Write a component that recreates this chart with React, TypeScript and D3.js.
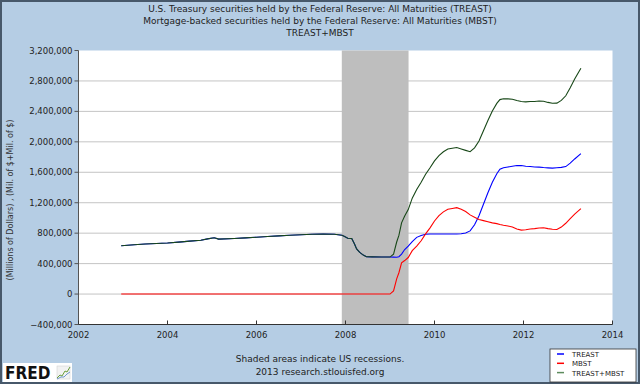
import React from 'react';
import * as d3 from 'd3';

const dates = [
  2002.96, 2003.25, 2003.5, 2003.75, 2004.0, 2004.25, 2004.5, 2004.75, 2004.9, 2005.05, 2005.15,
  2005.5, 2005.75, 2006.0, 2006.25, 2006.5, 2006.75, 2007.0, 2007.25, 2007.5, 2007.75, 2007.92,
  2007.98, 2008.05, 2008.14, 2008.2, 2008.25, 2008.32, 2008.4, 2008.47, 2008.6, 2008.8, 2009.0,
  2009.08, 2009.15, 2009.2, 2009.26, 2009.33, 2009.41, 2009.5, 2009.6, 2009.7, 2009.8, 2009.9,
  2010.0, 2010.1, 2010.2, 2010.3, 2010.4, 2010.5, 2010.6, 2010.7, 2010.8, 2010.9, 2011.0,
  2011.1, 2011.2, 2011.3, 2011.4, 2011.47, 2011.55, 2011.65, 2011.75, 2011.85, 2011.95, 2012.05,
  2012.15, 2012.25, 2012.35, 2012.45, 2012.55, 2012.65, 2012.75, 2012.85, 2012.95, 2013.05,
  2013.15, 2013.29,
];

const treast = [
  635000, 648000, 657000, 665000, 670000, 682000, 695000, 706000, 725000, 740000, 722000,
  730000, 738000, 746000, 757000, 765000, 773000, 780000, 785000, 789000, 786000, 772000,
  757000, 734000, 731000, 662000, 592000, 548000, 512000, 490000, 488000, 486000, 486000,
  485000, 484000, 490000, 525000, 585000, 630000, 690000, 745000, 770000, 785000, 790000,
  790000, 790000, 790000, 790000, 790000, 790000, 792000, 803000, 830000, 910000, 1030000,
  1180000, 1330000, 1470000, 1580000, 1640000, 1660000, 1670000, 1680000, 1688000, 1690000, 1680000,
  1675000, 1670000, 1668000, 1662000, 1658000, 1655000, 1660000, 1665000, 1675000, 1720000,
  1775000, 1845000,
];

const mbst = [
  0, 0, 0, 0, 0, 0, 0, 0, 0, 0, 0,
  0, 0, 0, 0, 0, 0, 0, 0, 0, 0, 0,
  0, 0, 0, 0, 0, 0, 0, 0, 0, 0, 0,
  40000, 200000, 280000, 410000, 440000, 480000, 570000, 630000, 700000, 790000, 870000,
  960000, 1030000, 1080000, 1115000, 1125000, 1135000, 1115000, 1085000, 1040000, 1010000, 980000,
  965000, 950000, 935000, 925000, 915000, 905000, 895000, 880000, 855000, 840000, 845000,
  855000, 860000, 868000, 872000, 860000, 852000, 848000, 880000, 930000, 990000,
  1050000, 1122000,
];

const total = treast.map((v, i) => v + mbst[i]);

const yTicks = [-400000, 0, 400000, 800000, 1200000, 1600000, 2000000, 2400000, 2800000, 3200000];
const xTicks = [2002, 2004, 2006, 2008, 2010, 2012, 2014];
const recessions = [[2007.917, 2009.417]];

const titleLines = [
  'U.S. Treasury securities held by the Federal Reserve: All Maturities (TREAST)',
  'Mortgage-backed securities held by the Federal Reserve: All Maturities (MBST)',
  'TREAST+MBST',
];
const yAxisTitle = '(Millions of Dollars) , (Mil. of $+Mil. of $)';
const footnotes = ['Shaded areas indicate US recessions.', '2013 research.stlouisfed.org'];
const seriesNames = ['TREAST', 'MBST', 'TREAST+MBST'];
const seriesColors = ['#0000FF', '#FF0000', '#184818'];
const legendColors = ['#0000FF', '#FF0000', '#5E8C5E'];

const FONT = 'DejaVu Sans, Verdana, sans-serif';

export default function App() {
  const W = 640;
  const H = 384;
  const L = 78.5, R = 612.5, T = 50.5, B = 324.5;
  const x = d3.scaleLinear().domain([2002, 2014]).range([L, R]);
  const y = d3.scaleLinear().domain([-400000, 3200000]).range([B, T]);
  const lineGen = d3
    .line<number>()
    .x((_, i) => x(dates[i]))
    .y((d) => y(d));
  const series = [treast, mbst, total];
  const fmt = d3.format(',');

  return (
    <svg
      width={W}
      height={H}
      style={{ position: 'fixed', left: 0, top: 0, display: 'block' }}
      fontFamily={FONT}
    >
      <rect x={0} y={0} width={W} height={H} fill="#B5CDE4" />
      <rect x={1} y={1} width={W - 2} height={H - 2} fill="none" stroke="#47586A" strokeWidth={2} />

      {titleLines.map((t, i) => (
        <text key={i} x={320} y={12 + i * 12} textAnchor="middle" fontSize={9} fill="#222">
          {t}
        </text>
      ))}

      <rect x={L} y={T} width={R - L} height={B - T} fill="#FFFFFF" />

      {yTicks
        .filter((v) => v !== -400000 && v !== 3200000)
        .map((v) => (
          <line key={v} x1={L} x2={R} y1={y(v)} y2={y(v)} stroke="#C4C4C4" strokeWidth={1} />
        ))}

      {recessions.map(([a, b], i) => (
        <rect key={i} x={x(a)} y={T} width={x(b) - x(a)} height={B - T} fill="#BEBEBE" />
      ))}

      {series.map((s, i) => (
        <path key={i} d={lineGen(s) || ''} fill="none" stroke={seriesColors[i]} strokeWidth={1.1} />
      ))}

      <line x1={L} x2={L} y1={T} y2={B} stroke="#555" strokeWidth={1} />
      <line x1={L} x2={R} y1={B} y2={B} stroke="#333" strokeWidth={1} />
      {yTicks.map((v) => (
        <g key={v}>
          <line x1={L - 4} x2={L} y1={y(v)} y2={y(v)} stroke="#555" />
          <text x={L - 6} y={y(v) + 3} textAnchor="end" fontSize={8.5} fill="#222">
            {fmt(v)}
          </text>
        </g>
      ))}
      {xTicks.map((v) => (
        <g key={v}>
          <line x1={x(v)} x2={x(v)} y1={B - 4} y2={B} stroke="#333" />
          <text x={x(v)} y={338} textAnchor="middle" fontSize={8.5} fill="#222">
            {v}
          </text>
        </g>
      ))}

      <text
        transform={`translate(13,200) rotate(-90)`}
        textAnchor="middle"
        fontSize={8}
        fill="#333"
      >
        {yAxisTitle}
      </text>

      {footnotes.map((t, i) => (
        <text key={i} x={320} y={362 + i * 13} textAnchor="middle" fontSize={9} fill="#222">
          {t}
        </text>
      ))}

      <g>
        <rect x={550} y={349} width={86} height={33} fill="#FFFFFF" stroke="#333" strokeWidth={0.8} />
        {seriesNames.map((n, i) => (
          <g key={n}>
            <line x1={557} x2={564} y1={354 + i * 9.3} y2={354 + i * 9.3} stroke={legendColors[i]} strokeWidth={1.5} />
            <text x={572} y={357 + i * 9.3} fontSize={7} fill="#222">
              {n}
            </text>
          </g>
        ))}
      </g>

      <g>
        <rect x={3} y={363} width={69} height={19} fill="#FFFFFF" />
        <text x={5} y={379} fontSize={17} fontWeight="bold" fill="#111" fontFamily="DejaVu Sans Condensed, DejaVu Sans, sans-serif">
          FRED
        </text>
        <rect x={57} y={366} width={13} height={13} fill="#F2F2F2" stroke="#CCC" strokeWidth={0.5} />
        <path d="M57,378 L60,375 L62,376 L65,371 L67,372 L70,367" fill="none" stroke="#6A9F3A" strokeWidth={1} />
        <path d="M57,379 L61,377 L64,377 L67,374 L70,372" fill="none" stroke="#4A7FC0" strokeWidth={0.8} />
      </g>
    </svg>
  );
}
